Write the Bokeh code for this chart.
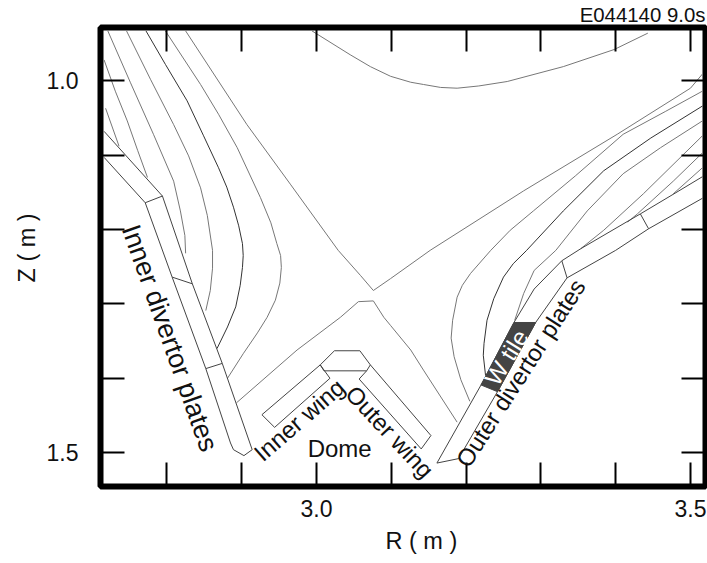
from math import radians
from bokeh.embed import file_html
from bokeh.models import FixedTicker, Label, LinearAxis, Range1d, Title, NumeralTickFormatter
from bokeh.plotting import figure
from bokeh.resources import INLINE

major_r = [3.0, 3.5]
minor_r = [2.8, 2.9, 3.1, 3.2, 3.3, 3.4]
major_z = [1.0, 1.5]
minor_z = [1.1, 1.2, 1.3, 1.4]

sep_r = [2.825, 2.907, 2.965, 3.029, 3.059, 3.076, 3.099, 3.152, 3.277, 3.402, 3.500, 3.516]
sep_z = [0.933, 1.059, 1.139, 1.228, 1.262, 1.282, 1.266, 1.228, 1.148, 1.072, 1.010, 0.991]
pf_r = [2.893, 2.974, 3.032, 3.056, 3.076, 3.090, 3.099, 3.126, 3.143, 3.188]
pf_z = [1.433, 1.362, 1.318, 1.297, 1.296, 1.318, 1.329, 1.362, 1.389, 1.459]
top_r = [2.994, 3.045, 3.072, 3.099, 3.126, 3.143, 3.166, 3.188, 3.217, 3.255, 3.330, 3.398, 3.443]
top_z = [0.933, 0.965, 0.981, 0.994, 1.002, 1.005, 1.009, 1.010, 1.007, 1.001, 0.981, 0.958, 0.936]
b_r = [2.798, 2.845, 2.869, 2.894, 2.925, 2.939, 2.947, 2.952, 2.953, 2.951, 2.945, 2.934, 2.921, 2.902, 2.881]
b_z = [0.933, 1.005, 1.045, 1.090, 1.157, 1.191, 1.219, 1.235, 1.251, 1.272, 1.295, 1.318, 1.339, 1.367, 1.400]
c_r = [2.772, 2.798, 2.827, 2.849, 2.869, 2.880, 2.889, 2.896, 2.901, 2.902, 2.901, 2.898, 2.892, 2.881, 2.867]
c_z = [0.933, 0.978, 1.027, 1.074, 1.117, 1.143, 1.170, 1.195, 1.219, 1.235, 1.251, 1.275, 1.304, 1.331, 1.360]
d_r = [2.746, 2.778, 2.809, 2.829, 2.845, 2.854, 2.861, 2.861, 2.858, 2.852]
d_z = [0.933, 0.998, 1.059, 1.101, 1.144, 1.181, 1.228, 1.252, 1.282, 1.309]
e_r = [2.721, 2.751, 2.782, 2.809, 2.818, 2.824, 2.825]
e_z = [0.933, 1.002, 1.072, 1.135, 1.175, 1.208, 1.232]
f_r = [2.716, 2.731, 2.747, 2.761, 2.774]
f_z = [0.972, 1.014, 1.054, 1.094, 1.130]
g_r = [2.718, 2.736]
g_z = [1.037, 1.088]
o2_r = [3.205, 3.193, 3.184, 3.180, 3.182, 3.188, 3.195, 3.206, 3.233, 3.259, 3.290, 3.346, 3.410, 3.467, 3.516]
o2_z = [1.431, 1.402, 1.371, 1.346, 1.322, 1.291, 1.275, 1.259, 1.228, 1.201, 1.175, 1.128, 1.072, 1.041, 1.014]
o3_r = [3.226, 3.223, 3.224, 3.228, 3.237, 3.250, 3.263, 3.281, 3.330, 3.384, 3.447, 3.516]
o3_z = [1.396, 1.369, 1.353, 1.322, 1.293, 1.264, 1.246, 1.228, 1.175, 1.121, 1.077, 1.034]
o4_r = [3.265, 3.277, 3.291, 3.320, 3.362, 3.410, 3.460, 3.516]
o4_z = [1.322, 1.286, 1.255, 1.228, 1.175, 1.125, 1.090, 1.054]
o5_r = [3.353, 3.384, 3.437, 3.516]
o5_z = [1.226, 1.201, 1.152, 1.074]
o6_r = [3.416, 3.429, 3.477, 3.516]
o6_z = [1.190, 1.179, 1.135, 1.097]
o7_r = [3.477, 3.516]
o7_z = [1.152, 1.117]

inner_plate_r = [2.716, 2.794, 2.834, 2.874, 2.914, 2.903, 2.889, 2.885, 2.852, 2.807, 2.771, 2.716]
inner_plate_z = [1.068, 1.155, 1.273, 1.380, 1.496, 1.504, 1.496, 1.487, 1.387, 1.264, 1.164, 1.103]
inner_div_r = [[2.771, 2.794], [2.807, 2.834], [2.852, 2.874]]
inner_div_z = [[1.164, 1.155], [1.264, 1.273], [1.387, 1.380]]
inner_wing_r = [2.927, 3.005, 3.018, 2.944, 2.927]
inner_wing_z = [1.449, 1.382, 1.400, 1.466, 1.449]
dome_top_r = [3.005, 3.024, 3.058, 3.072]
dome_top_z = [1.382, 1.363, 1.363, 1.382]
dome_chord_r = [3.005, 3.010, 3.067, 3.072]
dome_chord_z = [1.382, 1.390, 1.390, 1.382]
outer_wing_r = [3.072, 3.153, 3.140, 3.057, 3.067]
outer_wing_z = [1.382, 1.477, 1.495, 1.401, 1.390]
outer_plate_r = [3.516, 3.444, 3.400, 3.335, 3.293, 3.242, 3.190, 3.161, 3.220, 3.264, 3.291, 3.328, 3.353, 3.433, 3.478, 3.516]
outer_plate_z = [1.158, 1.199, 1.228, 1.265, 1.325, 1.418, 1.508, 1.514, 1.409, 1.325, 1.280, 1.242, 1.226, 1.179, 1.152, 1.129]
outer_div_r = [[3.328, 3.335], [3.433, 3.444]]
outer_div_z = [[1.242, 1.265], [1.179, 1.199]]
w_patch_r = [3.220, 3.242, 3.293, 3.264]
w_patch_z = [1.409, 1.418, 1.325, 1.325]

FONT = "Liberation Sans"
FS = "24px"

p = figure(width=707, height=563, output_backend="svg", toolbar_location=None,
           x_axis_location=None, y_axis_location=None,
           x_range=Range1d(2.7112, 3.5201), y_range=Range1d(1.5455, 0.9284),
           min_border_left=100, min_border_right=2, min_border_top=26, min_border_bottom=76)
p.grid.visible = False
p.outline_line_color = "black"
p.outline_line_width = 6
p.background_fill_color = "white"

def add_axis(place, major, minor, labels):
    if labels:
        axis = LinearAxis(ticker=FixedTicker(ticks=major, minor_ticks=minor),
                          formatter=NumeralTickFormatter(format="0.0"))
    else:
        axis = LinearAxis(ticker=FixedTicker(ticks=[], minor_ticks=major + minor))
    axis.axis_line_color = None
    axis.major_tick_in = 24
    axis.major_tick_out = 0
    axis.minor_tick_in = 24
    axis.minor_tick_out = 0
    axis.major_tick_line_width = 2
    axis.minor_tick_line_width = 2
    axis.major_tick_line_color = "black"
    axis.minor_tick_line_color = "black"
    axis.major_label_text_font = FONT
    axis.major_label_text_font_size = "23px"
    axis.major_label_text_color = "#111111"
    axis.major_label_standoff = 13
    p.add_layout(axis, place)

add_axis("below", major_r, minor_r, True)
add_axis("left", major_z, minor_z, True)
add_axis("above", major_r, minor_r, False)
add_axis("right", major_z, minor_z, False)
p.left[0].major_label_standoff = 22

def edge_title(text, place, size, align, offset, standoff, vertical="bottom"):
    t = Title(text=text, align=align, offset=offset, standoff=standoff, text_font=FONT,
              text_font_size=size, text_font_style="normal", text_color="#111111",
              vertical_align=vertical)
    p.add_layout(t, place)

edge_title("E044140 9.0s", "above", "20.4px", "right", 0, 3)
edge_title("R ( m )", "below", "23.5px", "left", 285, 16, "top")
edge_title("Z ( m )", "left", "23.5px", "left", 204, 7)

grey = [(sep_r, sep_z), (pf_r, pf_z), (top_r, top_z), (b_r, b_z), (d_r, d_z), (e_r, e_z),
        (f_r, f_z), (g_r, g_z), (o2_r, o2_z), (o4_r, o4_z), (o5_r, o5_z), (o6_r, o6_z), (o7_r, o7_z)]
for xs, ys in grey:
    p.line(xs, ys, line_color="#777777", line_width=1)
for xs, ys in [(c_r, c_z), (o3_r, o3_z)]:
    p.line(xs, ys, line_color="#333333", line_width=1)

p.patch(w_patch_r, w_patch_z, fill_color="#444444", line_color="#444444", line_width=1)
for xs, ys in [(inner_plate_r, inner_plate_z), (inner_wing_r, inner_wing_z), (dome_top_r, dome_top_z),
               (dome_chord_r, dome_chord_z), (outer_wing_r, outer_wing_z), (outer_plate_r, outer_plate_z)]:
    p.line(xs, ys, line_color="#444444", line_width=1)
p.multi_line(inner_div_r + outer_div_r, inner_div_z + outer_div_z, line_color="#444444", line_width=1)

def note(text, r, z, angle=0, size=FS, color="#111111"):
    p.add_layout(Label(x=r, y=z, text=text, angle=radians(angle), text_align="center",
                       text_baseline="middle", text_font=FONT, text_font_size=size,
                       text_color=color))

note("Inner divertor plates", 2.804, 1.346, -70.5, "27px")
note("Inner wing", 2.977, 1.456, 41)
note("Outer wing", 3.098, 1.472, -47)
note("Dome", 3.031, 1.495, 0)
note("Outer divertor plates", 3.273, 1.393, 57.3)
note("W tile", 3.254, 1.372, 58, "24px", "white")

open("out.html", "w").write(file_html(p, INLINE))
